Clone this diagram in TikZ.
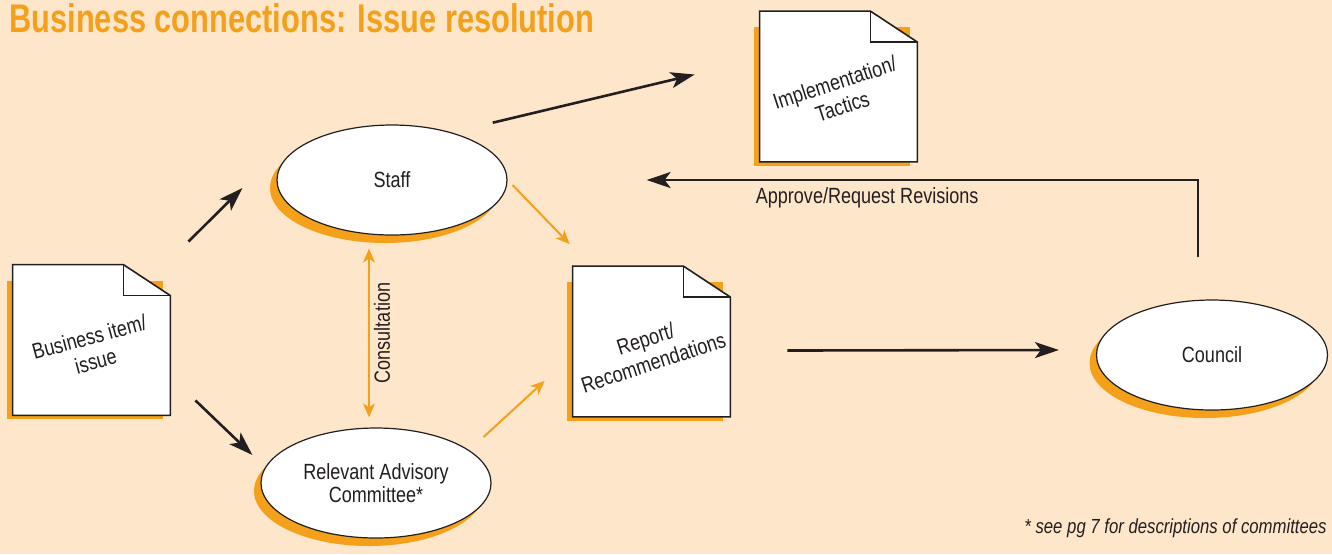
\documentclass[tikz,border=0pt]{standalone}
\usepackage{fontspec}
\newfontfamily\diagfont[FakeStretch=0.82]{Liberation Sans}
\newfontfamily\titlefont[FakeStretch=0.77]{Liberation Sans}
\usetikzlibrary{shapes.geometric, arrows.meta, shadows}
\definecolor{paper}{HTML}{FDE6C9}
\definecolor{brand}{HTML}{F5A01A}
\definecolor{ink}{HTML}{231F20}
\tikzstyle{oval} = [ellipse, draw=ink, line width=0.6pt, fill=white, minimum width=115pt, minimum height=55pt, inner sep=0pt, align=center, text=ink, font=\diagfont\fontsize{11}{11.5}\selectfont, drop shadow={shadow xshift=-3.5pt, shadow yshift=-4pt, fill=brand, opacity=1}]
\tikzstyle{docpage} = [rectangle, minimum width=78.5pt, minimum height=75pt, inner sep=0pt]
\tikzstyle{doctext} = [align=center, text=ink, font=\diagfont\fontsize{11}{12.5}\selectfont]
\tikzstyle{arrow} = [line width=1.3pt, draw=ink, -{Stealth[length=12pt, width=8pt, inset=3pt]}]
\tikzstyle{softarrow} = [line width=1pt, draw=brand, -{Stealth[length=7pt, width=6pt, inset=2pt]}]
\tikzstyle{softboth} = [line width=1pt, draw=brand, {Stealth[length=7pt, width=6pt, inset=2pt]}-{Stealth[length=7pt, width=6pt, inset=2pt]}]

\begin{document}
\begin{tikzpicture}[x=0.5pt, y=-0.5pt]

	\useasboundingbox (0,0) rectangle (1332,554);
	\fill [paper] (0,0) rectangle (1332,554);

	\node (title) [anchor=base west, inner sep=0pt, text=brand, font=\titlefont\bfseries\fontsize{20}{22}\selectfont] at (9,32) {Business connections: Issue resolution};

	\node (staff) [oval] at (392,180) {Staff};
	\node (advisory) [oval] at (376,483) {Relevant Advisory\\Committee*};
	\node (council) [oval, minimum width=115.5pt] at (1212,355) {Council};

	\node (item) [docpage] at (91.5,340) {};
	\node (report) [docpage] at (651.5,341.5) {};
	\node (tactics) [docpage] at (838.5,86.5) {};

	% folded sheets with their shadow
	\foreach \n in {item,report,tactics} {
		\fill [brand] ([shift={(-6,16)}]\n.north west) rectangle ([shift={(-7,4)}]\n.south east);
		\filldraw [fill=white, draw=ink, line width=0.8pt] (\n.north west) -- ([shift={(-47,0)}]\n.north east) -- ([shift={(0,31)}]\n.north east) -- (\n.south east) -- (\n.south west) -- cycle;
		\draw [ink, line width=0.8pt] ([shift={(-47,0)}]\n.north east) |- ([shift={(0,31)}]\n.north east);
	}

	\node (item-text) [doctext, rotate=15] at ([shift={(1,9)}]item.center) {Business item/\\issue};
	\node (report-text) [doctext, rotate=18] at ([shift={(-2,9)}]report.center) {Report/\\Recommendations};
	\node (tactics-text) [doctext, rotate=18] at ([shift={(0,8)}]tactics.center) {Implementation/\\Tactics};

	\draw [arrow] ([shift={(18,-23)}]item.north east) -- ([shift={(-34,8)}]staff.west);
	\draw [arrow] ([shift={(25,-15)}]item.south east) -- ([shift={(-8,-28)}]advisory.west);
	\draw [arrow] ([shift={(19,-18)}]staff.north east) -- ([shift={(-65,-12)}]tactics.west);
	\draw [softarrow] ([shift={(5,5)}]staff.east) -- ([shift={(-3,-22)}]report.north west);
	\draw [softarrow] ([shift={(-8,-46)}]advisory.east) -- ([shift={(-28,-36)}]report.south west);
	\draw [softboth] ([shift={(-23,13)}]staff.south) -- node (consult) [midway, anchor=north, rotate=90, inner sep=2pt, text=ink, font=\diagfont\fontsize{11}{11.5}\selectfont] {Consultation} ([shift={(-7,-10)}]advisory.north);
	\draw [arrow] ([shift={(57,9)}]report.east) -- ([shift={(-37,-5)}]council.west);
	\draw [arrow] ([shift={(-14,-42)}]council.north) |- node (revise) [pos=0.8, below, text=ink, font=\diagfont\fontsize{11}{11.5}\selectfont] {Approve/Request Revisions} ([shift={(139,0)}]staff.east);

	\node (note) [anchor=base east, inner sep=0pt, text=ink, font=\diagfont\itshape\fontsize{10.2}{12}\selectfont] at (1327,533) {* see pg 7 for descriptions of committees};
\end{tikzpicture}
\end{document}
